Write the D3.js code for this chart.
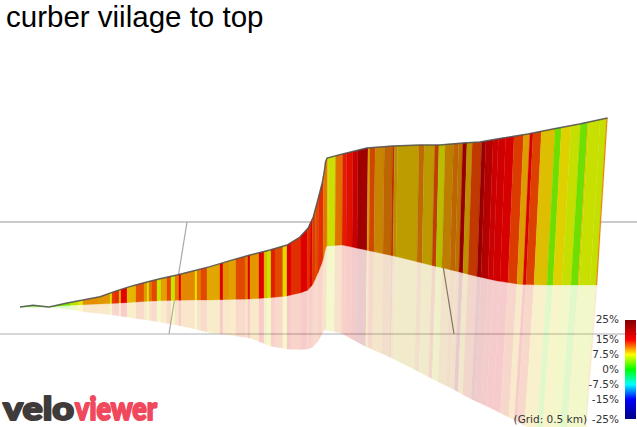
<!DOCTYPE html>
<html>
<head>
<meta charset="utf-8">
<title>curber viilage to top</title>
<script src="https://cdn.jsdelivr.net/npm/d3@7"></script>
<style>
  html, body { margin: 0; padding: 0; background: #fff; overflow: hidden; }
  svg { display: block; }
</style>
</head>
<body>
<svg id="chart"></svg>
<script>
let width = 637;
let height = 427;

// profile, all at the same distances (metres along the road)
const profileDist = [0,26,58,94,126,160,194,226,254,280,314,346,380,420,460,500,534,560,576,586,596,604,608,610,613,644,692,743,796,833,879,910,955,1002,1050,1100,1154];
const profileElev = [0,1.7,0,4,7,10.3,16.3,21.3,25,28.3,32,36,40.3,46.3,52,57,62,70,79,90,109,125,137,145,149,153,159,161,162,162,164,165,169,173,178,183,189];
const profileGround = [0,0.8,0,1.5,2.3,3,3.8,4.7,5.7,6.2,6.8,7,7,7.5,8,9.3,11,14,17,23,34,44,51,56,61,62,57,51.5,45,40.5,35,31,26,22.5,22,22,22];
const profileMirror = [0,-1,0,-2,-4.7,-6.5,-8.5,-11,-13,-15,-18,-21.5,-25.7,-28,-31,-39,-42,-42.5,-42,-40,-34.7,-28,-24,-23,-23,-26,-39,-50,-63,-72,-83,-91,-101,-112,-124,-135,-148];
const leanDist = [0,560,612,692,743,796,833,879,910,955,1002,1050,1100,1154];
const leanAmount = [0,0,0.5,1,1.5,2,3,3.8,4.7,5.5,6.8,8,9.5,10.5];

// gradient bands: start distance of each band, its grade in %
const bandStart = [0,60,86,100,116,126,156,180,184,190,198,202,214,232,248,254,258,264,274,282,294,302,310,318,322,350,354,362,374,400,406,418,432,450,456,460,478,488,494,502,510,524,526,534,542,562,574,580,584,590,596,606,614,616,630,644,652,664,674,694,698,708,726,742,746,752,794,804,824,832,844,860,870,878,886,896,914,922,936,946,960,976,994,1006,1012,1028,1054,1066,1084,1102,1116,1118,1140,1152];
const bandGrade = [3,3.7,3.7,6,7.5,10.3,10,7,13,13.5,9,15,9,12.3,10,7,11,12.6,6.7,9.7,12.6,6.7,11,15,10.5,7.5,11,12.6,9.5,15.3,10.2,9.7,12.6,11,15.3,10,15.2,9,6.7,14,12.6,11,7.8,15,13.5,15.2,13.5,15.5,13,12.5,13.5,11,8.5,6.7,11.2,14,14.5,17,20.5,9.5,12.5,10,11,13,9.5,8.8,10.8,8.9,12.5,7.3,10,11,10.6,19,9.3,12.8,20,18,16.5,16,15.5,13,9.7,15.5,12.8,8.6,3.7,8,6.7,3.7,8.6,6.7,6.6,10.5];
const totalDist = 1154;

// wall lighting along the road
const lightDist = [0,620,680,730,900,940,1154];
const lightValue = [0.9,0.88,0.88,0.74,0.74,0.86,0.88];

// legend
const legendTicks = [25,15,7.5,0,-7.5,-15,-25];
const gradeStops = [-25,-15,-7.5,0,7.5,15,25];
const gradeColours = ["#000080","#0000ff","#00ffff","#00ff00","#ffff00","#ff0000","#800000"];

// grid (0.5 km): far and near ends of the cross lines, and the two long lines
const gridFar = [334,832];
const gridNear = [298,868];
const gridRows = [85,-27];

let svg = d3.select("#chart").attr("width", width).attr("height", height);

let xScale = d3.scaleLinear().domain([0, totalDist]).range([20, 597]);
let yScale = d3.scaleLinear().domain([0, 189]).range([307, 118]);
let elevAt = d3.scaleLinear().domain(profileDist).range(profileElev);
let groundAt = d3.scaleLinear().domain(profileDist).range(profileGround);
let mirrorAt = d3.scaleLinear().domain(profileDist).range(profileMirror);
let leanAt = d3.scaleLinear().domain(leanDist).range(leanAmount);
let lightAt = d3.scaleLinear().domain(lightDist).range(lightValue);
let gradeColour = d3.scaleLinear().domain(gradeStops).range(gradeColours);

let bands = bandStart.map((start, i) => {
  let end = i + 1 < bandStart.length ? bandStart[i + 1] : totalDist;
  let inside = profileDist.filter((d) => d > start && d < end);
  return { start: start, end: end, grade: bandGrade[i], stops: [start, ...inside, end] };
});

let bandColour = (band) => {
  let c = d3.rgb(gradeColour(band.grade));
  let k = lightAt((band.start + band.end) / 2);
  return d3.rgb(c.r * k, c.g * k, c.b * k).formatHex();
};

let outline = d3.line().x((p) => p[0]).y((p) => p[1]);

let drawGrid = () => {
  let grid = svg.append("g").attr("id", "grid");
  grid
    .selectAll("line.row")
    .data(gridRows)
    .enter()
    .append("line")
    .attr("class", "row")
    .attr("x1", 0)
    .attr("x2", width)
    .attr("y1", (d) => yScale(d))
    .attr("y2", (d) => yScale(d))
    .attr("stroke", (d, i) => (i == 0 ? "#b8b8b8" : "#a9adb3"))
    .attr("stroke-width", (d, i) => (i == 0 ? 1.5 : 1.2));
  grid
    .selectAll("line.cross")
    .data(gridFar)
    .enter()
    .append("line")
    .attr("class", "cross")
    .attr("x1", (d) => xScale(d))
    .attr("y1", yScale(gridRows[0]))
    .attr("x2", (d, i) => xScale(gridNear[i]))
    .attr("y2", yScale(gridRows[1]))
    .attr("stroke", (d, i) => (i == 0 ? "#a8a8a8" : "#777777"))
    .attr("stroke-width", 1.2);
};

let drawWall = () => {
  svg
    .append("g")
    .attr("id", "wall")
    .selectAll("path")
    .data(bands)
    .enter()
    .append("path")
    .attr("d", (b) => {
      let top = b.stops.map((d) => [xScale(d) + leanAt(d), yScale(elevAt(d))]);
      let foot = b.stops.map((d) => [xScale(d), yScale(groundAt(d))]).reverse();
      return outline(top.concat(foot)) + "Z";
    })
    .attr("fill", bandColour)
    .attr("stroke", bandColour)
    .attr("stroke-width", 0.3);
};

let drawMirror = () => {
  svg
    .append("g")
    .attr("id", "mirror")
    .attr("opacity", 0.2)
    .selectAll("path")
    .data(bands)
    .enter()
    .append("path")
    .attr("d", (b) => {
      let foot = b.stops.map((d) => [xScale(d), yScale(groundAt(d))]);
      let low = b.stops.map((d) => [xScale(d) - 1.25 * leanAt(d), yScale(mirrorAt(d))]).reverse();
      return outline(foot.concat(low)) + "Z";
    })
    .attr("fill", bandColour)
    .attr("stroke", bandColour)
    .attr("stroke-width", 0.3);
};

let drawProfile = () => {
  let pts = profileDist.map((d) => [xScale(d) + leanAt(d), yScale(elevAt(d))]);
  svg
    .append("path")
    .attr("d", outline(pts))
    .attr("fill", "none")
    .attr("stroke", "#555555")
    .attr("stroke-opacity", 0.9)
    .attr("stroke-width", 1.4);
};

let drawLegend = () => {
  let legendScale = d3.scaleLinear().domain([-25, 25]).range([419, 319]);
  let grad = svg
    .append("defs")
    .append("linearGradient")
    .attr("id", "gradeRamp")
    .attr("x1", 0)
    .attr("x2", 0)
    .attr("y1", 1)
    .attr("y2", 0);
  grad
    .selectAll("stop")
    .data(gradeStops)
    .enter()
    .append("stop")
    .attr("offset", (d) => (d + 25) / 50)
    .attr("stop-color", (d) => gradeColour(d));

  svg
    .append("rect")
    .attr("x", 625)
    .attr("y", 320)
    .attr("width", 11)
    .attr("height", 99)
    .attr("fill", "url(#gradeRamp)");

  let axis = d3
    .axisLeft(legendScale)
    .tickValues(legendTicks)
    .tickFormat((d) => d + "%")
    .tickSize(0)
    .tickPadding(0);
  let g = svg.append("g").attr("transform", "translate(619,0)").call(axis);
  g.select(".domain").remove();
  g.selectAll("text")
    .attr("fill", "#333333")
    .style("font-family", "'DejaVu Sans'")
    .style("font-size", "10.5px");

  svg
    .append("text")
    .attr("x", 587)
    .attr("y", 423)
    .attr("text-anchor", "end")
    .attr("fill", "#333333")
    .style("font-family", "'DejaVu Sans'")
    .style("font-size", "10.5px")
    .text("(Grid: 0.5 km)");
};

let drawTitle = () => {
  svg
    .append("text")
    .attr("x", 6)
    .attr("y", 27)
    .attr("fill", "#000000")
    .style("font-family", "'Liberation Sans'")
    .style("font-size", "29.5px")
    .text("curber viilage to top");
};

let drawLogo = () => {
  let logoText = (str, x, len, colour) => {
    svg
      .append("text")
      .attr("x", x)
      .attr("y", 420)
      .attr("textLength", len)
      .attr("lengthAdjust", "spacingAndGlyphs")
      .attr("fill", colour)
      .attr("stroke", colour)
      .attr("stroke-width", 2)
      .attr("stroke-linejoin", "round")
      .style("font-family", "Lato")
      .style("font-weight", 900)
      .style("font-size", "32.5px")
      .text(str);
  };
  logoText("velo", 3, 71, "#3f3b3b");
  logoText("viewer", 75, 82, "#f0485c");
};

drawGrid();
drawWall();
drawMirror();
drawProfile();
drawLegend();
drawTitle();
drawLogo();
</script>
</body>
</html>
